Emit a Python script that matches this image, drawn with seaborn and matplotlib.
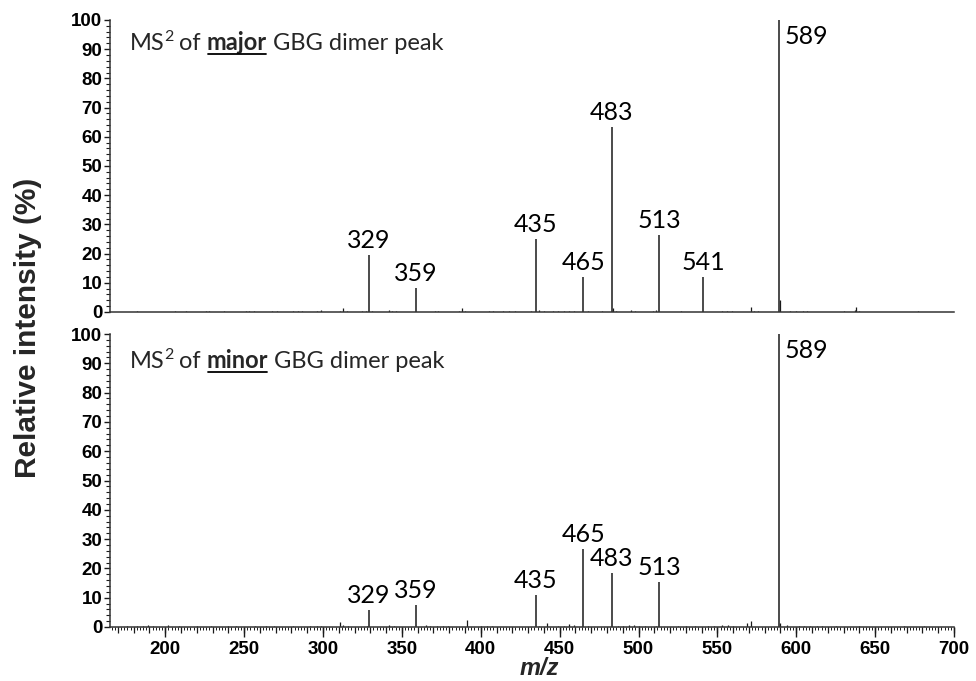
import numpy as np
import pandas as pd
import matplotlib
matplotlib.use("Agg")
import matplotlib.pyplot as plt
from matplotlib.lines import Line2D
import seaborn as sns

# Labelled fragment ions (m/z) and relative intensities (%)
major_mz = [329, 359, 435, 465, 483, 513, 541, 589]
major_int = [19.5, 8.1, 24.9, 12.1, 63.5, 26.4, 12.0, 100.0]
minor_mz = [329, 359, 435, 465, 483, 513, 589]
minor_int = [5.8, 7.5, 11.0, 26.6, 18.5, 15.5, 100.0]

# Small unlabelled signals along the baseline
major_noise_mz = [182, 206, 213, 226, 228, 237, 251, 253, 256, 268, 271, 281, 284, 287,
                  296, 299, 311, 313, 315, 325, 327, 331, 342, 344, 346, 371, 373, 386,
                  388, 390, 405, 408, 414, 418, 422, 432, 437, 440, 446, 449, 453, 456,
                  459, 468, 477, 484, 486, 495, 498, 509, 511, 527, 553, 556, 559, 571,
                  573, 576, 590, 596, 600, 604, 607, 630, 637, 638, 640, 677]
major_noise_int = [0.3, 0.3, 0.3, 0.4, 0.3, 0.3, 0.4, 0.3, 0.4, 0.4, 0.3, 0.4, 0.3, 0.4,
                   0.4, 0.6, 0.5, 1.2, 0.4, 0.4, 0.5, 0.4, 0.6, 0.4, 0.3, 0.4, 0.4, 0.4,
                   1.3, 0.5, 0.3, 0.4, 0.3, 0.4, 0.5, 0.4, 0.6, 0.4, 0.4, 0.4, 0.3, 0.4,
                   0.3, 0.4, 0.3, 1.5, 0.4, 0.6, 0.4, 0.3, 0.6, 0.3, 0.4, 0.3, 0.3, 1.8,
                   0.5, 0.4, 4.0, 0.3, 0.3, 0.3, 0.3, 0.3, 0.6, 1.6, 0.4, 0.3]
minor_noise_mz = [176, 182, 186, 189, 192, 202, 209, 220, 229, 240, 245, 257, 264, 269,
                  281, 292, 296, 299, 311, 313, 316, 328, 342, 345, 365, 368, 372, 376,
                  379, 391, 400, 404, 407, 437, 442, 449, 453, 456, 459, 468, 487, 490,
                  494, 497, 500, 504, 511, 525, 530, 536, 544, 548, 553, 557, 560, 569,
                  571, 590, 594, 602, 605, 609, 613, 616, 625, 640, 668, 681]
minor_noise_int = [0.3, 0.3, 0.4, 0.6, 0.3, 0.7, 0.5, 0.3, 0.5, 0.3, 0.4, 0.5, 0.3, 0.4,
                   0.3, 0.4, 0.5, 0.4, 1.6, 0.7, 0.5, 0.5, 0.8, 0.4, 0.6, 0.4, 0.5, 0.4,
                   0.3, 2.3, 0.5, 0.4, 0.4, 0.5, 1.4, 0.5, 0.5, 1.0, 0.6, 0.5, 0.5, 0.4,
                   0.6, 0.6, 0.5, 0.4, 0.5, 0.4, 0.4, 0.3, 0.5, 0.4, 0.6, 0.6, 0.4, 1.5,
                   2.0, 1.5, 0.8, 0.5, 0.4, 0.3, 0.4, 0.3, 0.3, 0.5, 0.4, 0.3]

x_ticks = [200, 250, 300, 350, 400, 450, 500, 550, 600, 650, 700]
y_ticks = [0, 10, 20, 30, 40, 50, 60, 70, 80, 90, 100]

sns.set_theme(style="ticks")
plt.rcParams["font.family"] = ["Liberation Sans", "DejaVu Sans"]

LABEL_FONT = ["Lato", "DejaVu Sans"]
INK = "#1a1a1a"
TICK_SIZE = 13.5

fig = plt.figure(figsize=(9.76, 6.81), dpi=100)
ax_top = fig.add_axes([0.1127, 0.5419, 0.8648, 0.4288])
ax_bot = fig.add_axes([0.1127, 0.0793, 0.8648, 0.4302], sharex=ax_top)

panels = [
    (ax_top, "major", major_mz, major_int, major_noise_mz, major_noise_int, 0.897),
    (ax_bot, "minor", minor_mz, minor_int, minor_noise_mz, minor_noise_int, 0.884),
]

underlined = []
for ax, name, mz, inten, nmz, nint, title_y in panels:
    peaks = pd.DataFrame({"mz": mz, "intensity": inten})
    noise = pd.DataFrame({"mz": nmz, "intensity": nint})

    ax.vlines(noise["mz"], 0, noise["intensity"], color=INK, lw=0.9)
    ax.vlines(peaks["mz"], 0, peaks["intensity"], color=INK, lw=1.1)

    for m, v in zip(peaks["mz"], peaks["intensity"]):
        if v >= 99:
            ax.annotate(str(m), xy=(m, v), xytext=(4, -17), textcoords="offset points",
                        ha="left", va="baseline", fontsize=18, family=LABEL_FONT,
                        color="black")
        else:
            ax.annotate(str(m), xy=(m, v), xytext=(0, 5), textcoords="offset points",
                        ha="center", va="baseline", fontsize=18, family=LABEL_FONT,
                        color="black")

    ax.set_xlim(165, 700)
    ax.set_ylim(0, 100)
    ax.set_yticks(y_ticks)
    ax.set_yticks(np.arange(0, 101, 2), minor=True)
    ax.tick_params(axis="y", which="major", length=4, width=1.0, pad=1.5,
                   labelsize=TICK_SIZE, colors=INK)
    ax.tick_params(axis="y", which="minor", length=3, width=0.8, colors=INK)
    for lab in ax.get_yticklabels():
        lab.set_fontweight("bold")
        lab.set_color("black")
    sns.despine(ax=ax)
    for side in ("left", "bottom"):
        ax.spines[side].set_color("#333333")
        ax.spines[side].set_linewidth(1.1)
    ax.set_facecolor("white")

    # panel heading: "MS² of <name> GBG dimer peak"
    t_ms = ax.text(0.0237, title_y, "MS", transform=ax.transAxes, ha="left",
                   va="baseline", fontsize=17, family=LABEL_FONT)
    t_sup = ax.annotate("2", xy=(0.99, 0.5), xycoords=t_ms, ha="left", va="bottom",
                        fontsize=11.5, family=LABEL_FONT)
    t_of = ax.annotate(" of ", xy=(0.9, 0), xycoords=(t_sup, t_ms), ha="left",
                       va="bottom", fontsize=17, family=LABEL_FONT)
    t_name = ax.annotate(name, xy=(1, 0), xycoords=t_of, ha="left", va="bottom",
                         fontsize=17, family=LABEL_FONT, fontweight="bold")
    ax.annotate(" GBG dimer peak", xy=(1, 0), xycoords=t_name, ha="left",
                va="bottom", fontsize=17, family=LABEL_FONT)
    underlined.append((ax, t_name, title_y))

# x axis: labelled ticks every 50, intermediate ticks every 10, fine ticks every 2
ax_top.tick_params(axis="x", which="both", bottom=False, labelbottom=False)
ax_bot.set_xticks(x_ticks)
ax_bot.set_xticks(np.arange(166, 701, 2), minor=True)
ax_bot.tick_params(axis="x", which="major", length=7, width=1.0, pad=3,
                   labelsize=TICK_SIZE, colors=INK)
ax_bot.tick_params(axis="x", which="minor", length=2.2, width=0.7, colors=INK)
for lab in ax_bot.get_xticklabels():
    lab.set_fontweight("bold")
    lab.set_color("black")
mid = ax_bot.secondary_xaxis("bottom")
mid.set_xticks(np.arange(170, 701, 10))
mid.tick_params(axis="x", length=4, width=0.9, labelbottom=False, colors=INK)
mid.spines["bottom"].set_visible(False)

fig.text(0.0287, 0.518, "Relative intensity (%)", rotation=90, ha="center",
         va="center", fontsize=21.5, fontweight="bold")
fig.text(0.553, 0.019, "m/z", ha="center", va="center", fontsize=17,
         fontweight="bold", fontstyle="italic")

# underline the emphasised word in each heading
fig.canvas.draw()
renderer = fig.canvas.get_renderer()
inv = fig.transFigure.inverted()
for ax, t_name, title_y in underlined:
    bb = t_name.get_window_extent(renderer)
    base = ax.transAxes.transform((0, title_y))[1] - 4.0
    (x0, y0) = inv.transform((bb.x0 + 2, base))
    (x1, _) = inv.transform((bb.x1 - 1, base))
    fig.add_artist(Line2D([x0, x1], [y0, y0], transform=fig.transFigure,
                          color="black", lw=1.3))

fig.savefig("out.png", dpi=100, facecolor="white")
